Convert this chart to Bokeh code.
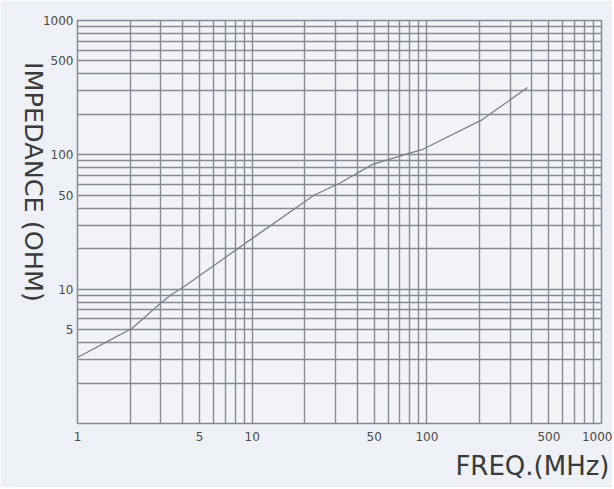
import math
from bokeh.plotting import figure
from bokeh.models import FixedTicker, ColumnDataSource, Title, LogAxis
from bokeh.embed import file_html
from bokeh.resources import INLINE

# Data (frequency in MHz, impedance in ohm)
freq = [1, 1.6, 2.05, 3, 3.4, 4.1, 10.3, 22.6, 32, 49, 78, 95, 208, 377]
impedance = [3.1, 4.3, 5.1, 7.9, 9.0, 10.5, 24.5, 50, 62, 85, 102, 110, 183, 317]

x_ticks = [1, 5, 10, 50, 100, 500, 1000]
x_tick_labels = ["1", "5", "10", "50", "100", "500", "1000"]
y_ticks = [5, 10, 50, 100, 500, 1000]
y_tick_labels = ["5", "10", "50", "100", "500", "1000"]
grid_steps = [1, 2, 3, 4, 5, 6, 7, 8, 9]
decades = [1, 10, 100]

x_title = "FREQ.(MHz)"
y_title = "IMPEDANCE (OHM)"

grid_ticks = [d * k for d in decades for k in grid_steps] + [1000]

GRID = "#878b91"
TXT = "#4a4a4a"
TITLE = "#3a3a3a"
NBSP = "\u00a0"

p = figure(
    width=612, height=487,
    x_axis_type="log", y_axis_type="log",
    x_range=(1, 1000), y_range=(1, 1000),
    output_backend="svg", toolbar_location=None,
    min_border_left=77, min_border_right=11,
    min_border_top=20, min_border_bottom=64,
)
p.background_fill_color = "#f1f3f7"
p.border_fill_color = "#edf0f5"
p.outline_line_color = GRID
p.outline_line_width = 1.5

p.xaxis.ticker = FixedTicker(ticks=x_ticks, minor_ticks=[])
p.yaxis.ticker = FixedTicker(ticks=y_ticks, minor_ticks=[])
p.xaxis.major_label_overrides = {t: s for t, s in zip(x_ticks, x_tick_labels)}
p.yaxis.major_label_overrides = {t: s for t, s in zip(y_ticks, y_tick_labels)}

for ax in (p.xaxis, p.yaxis):
    ax.axis_line_color = None
    ax.major_tick_line_color = None
    ax.minor_tick_line_color = None
    ax.major_tick_out = 0
    ax.major_tick_in = 0
    ax.major_label_text_font = "DejaVu Sans"
    ax.major_label_text_font_size = "12px"
    ax.major_label_text_color = TXT
p.xaxis.major_label_standoff = 8
p.yaxis.major_label_standoff = 4

# y title: a label-only axis on the left, reading top-to-bottom
title_axis = LogAxis(ticker=FixedTicker(ticks=[]),
                     axis_line_color=None, major_tick_line_color=None,
                     minor_tick_line_color=None, major_label_text_alpha=0,
                     major_tick_out=0, major_tick_in=0, major_label_standoff=0)
title_axis.axis_label_text_font = "DejaVu Sans"
title_axis.axis_label_text_font_size = "25.5px"
title_axis.axis_label_text_font_style = "normal"
title_axis.axis_label_text_color = TITLE
title_axis.axis_label_text_baseline = "bottom"
title_axis.axis_label_standoff = 6
props = title_axis.properties()
if "axis_label_orientation" in props and "axis_label_align" in props:
    title_axis.axis_label_orientation = -math.pi / 2
    title_axis.axis_label_align = "start"
    title_axis.axis_label = y_title + NBSP * 15
else:
    title_axis.axis_label = NBSP * 11 + y_title
p.add_layout(title_axis, "left")

# x title, right aligned below the axis
p.add_layout(Title(text=x_title, align="right", offset=-8, standoff=11,
                   text_font="DejaVu Sans", text_font_size="26px",
                   text_font_style="normal", text_color=TITLE), "below")

p.xgrid.ticker = FixedTicker(ticks=grid_ticks)
p.ygrid.ticker = FixedTicker(ticks=grid_ticks)
for g in (p.xgrid, p.ygrid):
    g.grid_line_color = GRID
    g.grid_line_width = 1.4
    g.grid_line_alpha = 1.0

src = ColumnDataSource(data=dict(x=freq, y=impedance))
p.line("x", "y", source=src, line_color="#7b8088", line_width=1.3)

open("out.html", "w").write(file_html(p, INLINE))
